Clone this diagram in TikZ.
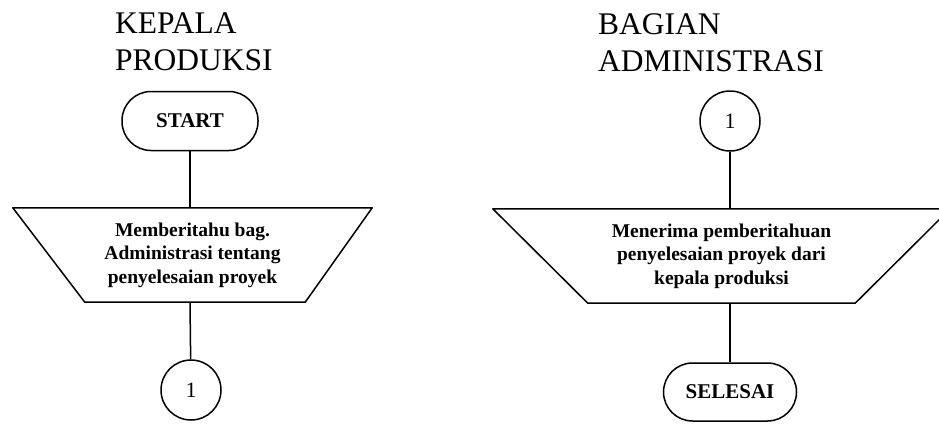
\documentclass[tikz,border=0pt]{standalone}
\usepackage{fontspec}
\setmainfont{Liberation Serif}
\usetikzlibrary{positioning, calc}

\begin{document}
\begin{tikzpicture}[
  x=1pt, y=-1pt,
  every node/.style={font=\fontsize{19.5}{23.5}\selectfont\bfseries},
  flowline/.style={line width=1.5pt, line join=round},
  termbox/.style={rectangle, rounded corners=29pt, draw, line width=1.5pt, minimum width=136pt, minimum height=59pt, font=\fontsize{21}{24}\selectfont\bfseries},
  connbox/.style={circle, draw, line width=1.5pt, minimum size=60pt, inner sep=0pt, font=\fontsize{22}{24}\selectfont},
  manualbox/.style={rectangle, minimum height=94pt, align=center, inner sep=0pt},
  headlabel/.style={font=\fontsize{31.5}{37}\selectfont, align=left, anchor=north west, inner sep=0pt},
]
\useasboundingbox (0,0) rectangle (939,423);

% Lanes
\node[headlabel] (head1) at (115,13) {KEPALA\\PRODUKSI};
\node[headlabel] (head2) at (598,13) {BAGIAN\\ADMINISTRASI};

% Kepala produksi
\node[termbox] (start) at (190,121) {START};
\node[manualbox, minimum width=359pt] (tell) at (192.5,255) {Memberitahu bag.\\Administrasi tentang\\penyelesaian proyek};
\draw[flowline] (tell.north west) -- (tell.north east) -- ([xshift=-67pt]tell.south east) -- ([xshift=72pt]tell.south west) -- cycle;
\node[connbox] (con1) at (191,390) {1};

% Bagian administrasi
\node[connbox] (con2) at (730,121) {1};
\node[manualbox, minimum width=457pt] (receive) at (721.5,256) {Menerima pemberitahuan\\penyelesaian proyek dari\\kepala produksi};
\draw[flowline] (receive.north west) -- (receive.north east) -- ([xshift=-95pt]receive.south east) -- ([xshift=95pt]receive.south west) -- cycle;
\node[termbox, minimum width=133pt, minimum height=58pt] (finish) at (730,392) {SELESAI};

% Flow
\draw[flowline] (start) -- (start |- tell.north);
\draw[flowline] (start |- tell.south) -- (con1);
\draw[flowline] (con2) -- (con2 |- receive.north);
\draw[flowline] (con2 |- receive.south) -- (finish);

\end{tikzpicture}
\end{document}
